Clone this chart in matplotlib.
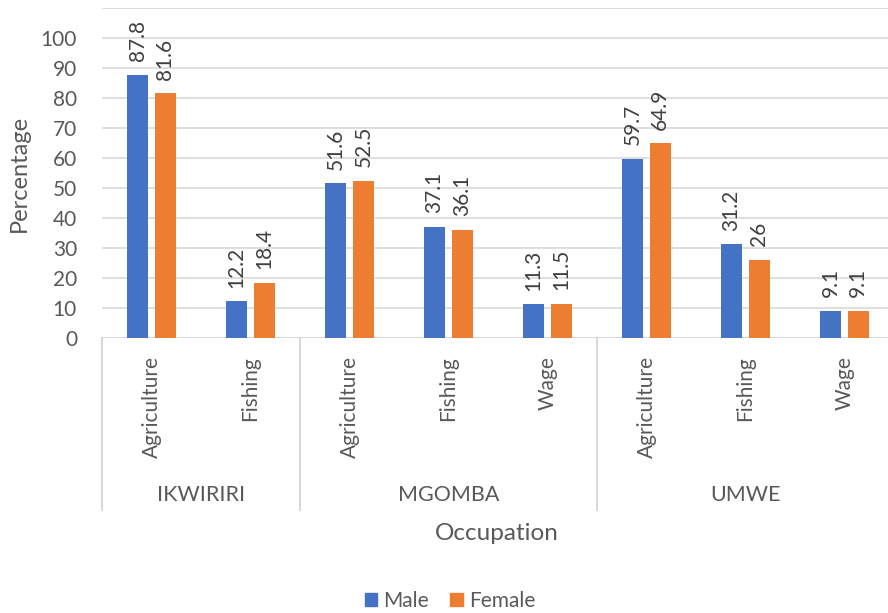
import matplotlib.pyplot as plt
import matplotlib.transforms as mtransforms
from matplotlib.patches import Patch
import numpy as np

plt.rcParams['font.family'] = ['Lato', 'DejaVu Sans']

locations = ["IKWIRIRI", "MGOMBA", "UMWE"]
occupations = [["Agriculture", "Fishing"],
               ["Agriculture", "Fishing", "Wage"],
               ["Agriculture", "Fishing", "Wage"]]
male = [87.8, 12.2, 51.6, 37.1, 11.3, 59.7, 31.2, 9.1]
female = [81.6, 18.4, 52.5, 36.1, 11.5, 64.9, 26, 9.1]

text_col = "#595959"
grid_col = "#D9D9D9"
blue = "#4472C4"
orange = "#ED7D31"

W, H = 888, 613
fig = plt.figure(figsize=(W / 100, H / 100), dpi=100)
# plot area runs past the right edge, as in the cropped original
ax = fig.add_axes([102 / W, 1 - 338 / H, (894 - 102) / W, 330 / H])

labels = [occ for group in occupations for occ in group]
x = np.arange(len(labels))
bw = 0.215
off = 0.14
ax.bar(x - off, male, bw, color=blue, zorder=3)
ax.bar(x + off, female, bw, color=orange, zorder=3)

for xi, m, f in zip(x, male, female):
    ax.text(xi - off, m + 4.5, f"{m:g}", rotation=90, ha="center", va="bottom",
            fontsize=15, color="#404040")
    ax.text(xi + off, f + 4.5, f"{f:g}", rotation=90, ha="center", va="bottom",
            fontsize=15, color="#404040")

ax.set_xlim(-0.5, len(labels) - 0.5)
ax.set_ylim(0, 110)
ax.set_yticks(np.arange(0, 111, 10))
ax.set_yticklabels([str(v) if v <= 100 else "" for v in range(0, 111, 10)])
ax.tick_params(axis="y", length=0, labelsize=15, labelcolor=text_col, pad=18)
ax.grid(axis="y", color=grid_col, lw=1.2, zorder=0)
for s in ax.spines.values():
    s.set_visible(False)
ax.axhline(0, color=grid_col, lw=1.5, zorder=2)

ax.set_xticks(x)
ax.set_xticklabels(labels, rotation=90, fontsize=15, color=text_col)
ax.tick_params(axis="x", length=0, pad=13)

ax.set_ylabel("Percentage", fontsize=17, color=text_col, labelpad=8)

trans = mtransforms.blended_transform_factory(ax.transData, ax.transAxes)
bottom = -(510 - 338) / 330
start = 0
bounds = [-0.5]
for loc, group in zip(locations, occupations):
    n = len(group)
    ax.text(start + (n - 1) / 2, -(495 - 338) / 330, loc, transform=trans,
            ha="center", va="center", fontsize=15.5, color=text_col)
    start += n
    bounds.append(start - 0.5)
for b in bounds:
    ax.plot([b, b], [0, bottom], transform=trans, color=grid_col, lw=1.5,
            clip_on=False)

fig.text(497 / W, 1 - 533 / H, "Occupation", ha="center", va="center",
         fontsize=17.5, color=text_col)

handles = [Patch(color=blue, label="Male"), Patch(color=orange, label="Female")]
fig.legend(handles=handles, loc="center", bbox_to_anchor=(450 / W, 1 - 601 / H),
           ncol=2, frameon=False, fontsize=15, labelcolor=text_col,
           handlelength=0.6, handleheight=0.6, handletextpad=0.3, columnspacing=1.0)

fig.savefig("out.png", dpi=100)
